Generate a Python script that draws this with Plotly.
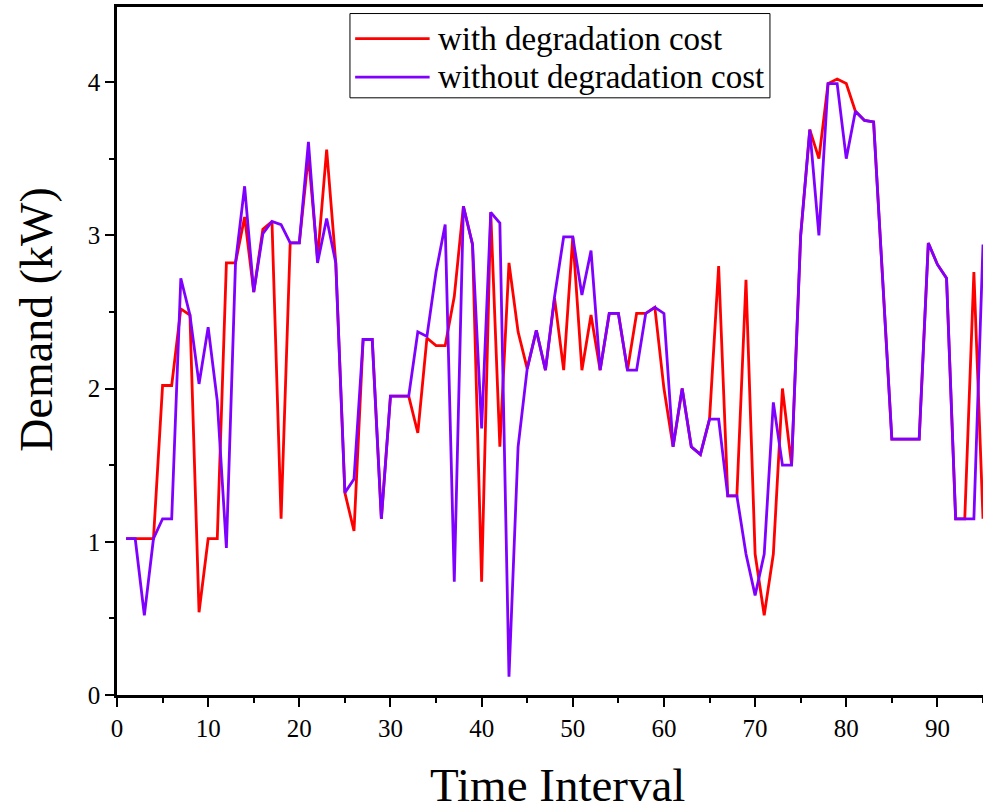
import plotly.graph_objects as go

# Time intervals 1..95
intervals = list(range(1, 96))

# Demand (kW) when battery degradation cost is included
with_degradation = [
    1.02, 1.02, 1.02, 1.02, 2.02, 2.02, 2.52, 2.48, 0.54, 1.02,
    1.02, 2.82, 2.82, 3.12, 2.63, 3.04, 3.09, 1.15, 2.95, 2.95,
    3.52, 2.85, 3.56, 2.82, 1.32, 1.07, 2.32, 2.32, 1.15, 1.95,
    1.95, 1.95, 1.71, 2.33, 2.28, 2.28, 2.60, 3.19, 2.94, 0.74,
    3.15, 1.62, 2.82, 2.37, 2.13, 2.38, 2.12, 2.59, 2.12, 2.99,
    2.12, 2.48, 2.12, 2.49, 2.49, 2.12, 2.49, 2.49, 2.53, 2.00,
    1.62, 2.00, 1.62, 1.57, 1.80, 2.80, 1.30, 1.30, 2.71, 0.92,
    0.52, 0.92, 2.00, 1.50, 3.00, 3.69, 3.50, 3.99, 4.02, 3.99,
    3.81, 3.75, 3.74, 2.71, 1.67, 1.67, 1.67, 1.67, 2.95, 2.81,
    2.72, 1.15, 1.15, 2.76, 1.15,
]

# Demand (kW) when battery degradation cost is ignored
without_degradation = [
    1.02, 1.02, 0.52, 1.02, 1.15, 1.15, 2.72, 2.48, 2.03, 2.40,
    1.92, 0.96, 2.82, 3.32, 2.63, 3.01, 3.09, 3.07, 2.95, 2.95,
    3.61, 2.82, 3.11, 2.82, 1.32, 1.41, 2.32, 2.32, 1.15, 1.95,
    1.95, 1.95, 2.37, 2.34, 2.76, 3.07, 0.74, 3.19, 2.94, 1.74,
    3.15, 3.08, 0.12, 1.62, 2.13, 2.38, 2.12, 2.60, 2.99, 2.99,
    2.61, 2.90, 2.12, 2.49, 2.49, 2.12, 2.12, 2.49, 2.53, 2.49,
    1.62, 2.00, 1.62, 1.57, 1.80, 1.80, 1.30, 1.30, 0.92, 0.65,
    0.92, 1.91, 1.50, 1.50, 3.00, 3.69, 3.00, 3.99, 3.99, 3.50,
    3.81, 3.75, 3.74, 2.71, 1.67, 1.67, 1.67, 1.67, 2.95, 2.81,
    2.72, 1.15, 1.15, 1.15, 2.94,
]

series_names = ["with degradation cost", "without degradation cost"]
series_colors = ["#FF0000", "#8000FF"]

FONT = "Liberation Serif, Times New Roman, serif"

fig = go.Figure()
for name, ys, color in zip(series_names,
                           [with_degradation, without_degradation],
                           series_colors):
    fig.add_trace(go.Scatter(
        x=intervals, y=ys, mode="lines", name=name,
        line=dict(color=color, width=2.8),
        showlegend=False, cliponaxis=True,
    ))

# Boxed legend drawn in paper coordinates
lx0, lx1, ly0, ly1 = 0.269, 0.754, 0.868, 0.9905
row_y = [0.954, 0.898]
shapes = [dict(type="rect", xref="paper", yref="paper",
               x0=lx0, x1=lx1, y0=ly0, y1=ly1,
               line=dict(color="black", width=1), fillcolor="white", layer="above")]
annotations = []
for name, color, yy in zip(series_names, series_colors, row_y):
    shapes.append(dict(type="line", xref="paper", yref="paper",
                       x0=0.275, x1=0.361, y0=yy, y1=yy,
                       line=dict(color=color, width=2.8), layer="above"))
    annotations.append(dict(xref="paper", yref="paper", x=0.368, y=yy,
                            text=name, showarrow=False, xanchor="left",
                            yanchor="middle",
                            font=dict(family=FONT, size=33, color="black")))

# Axis titles
annotations.append(dict(xref="paper", yref="paper", x=0.509, y=-0.131,
                        text="Time Interval", showarrow=False,
                        xanchor="center", yanchor="middle",
                        font=dict(family=FONT, size=47, color="black")))
annotations.append(dict(xref="paper", yref="paper", x=-0.094, y=0.545,
                        text="Demand (kW)", showarrow=False, textangle=-90,
                        xanchor="center", yanchor="middle",
                        font=dict(family=FONT, size=46, color="black")))

fig.update_layout(
    width=983, height=810,
    margin=dict(l=117, r=0, t=7, b=115),
    paper_bgcolor="white", plot_bgcolor="white",
    font=dict(family=FONT, size=25, color="black"),
    shapes=shapes, annotations=annotations,
    showlegend=False,
)
fig.update_xaxes(
    range=[0, 95], tickmode="linear", tick0=0, dtick=10,
    showgrid=False, zeroline=False,
    showline=True, linecolor="black", linewidth=2.5, mirror=True,
    ticks="outside", ticklen=9, tickwidth=2, tickcolor="black",
    minor=dict(ticks="outside", dtick=5, ticklen=5, tickwidth=2, tickcolor="black"),
    tickfont=dict(family=FONT, size=25),
)
fig.update_yaxes(
    range=[0, 4.49], tickmode="linear", tick0=0, dtick=1,
    showgrid=False, zeroline=False,
    showline=True, linecolor="black", linewidth=2.5,
    ticks="outside", ticklen=9, tickwidth=2, tickcolor="black",
    minor=dict(ticks="outside", dtick=0.5, ticklen=5, tickwidth=2, tickcolor="black"),
    tickfont=dict(family=FONT, size=25),
)

fig.write_html("out.html")
